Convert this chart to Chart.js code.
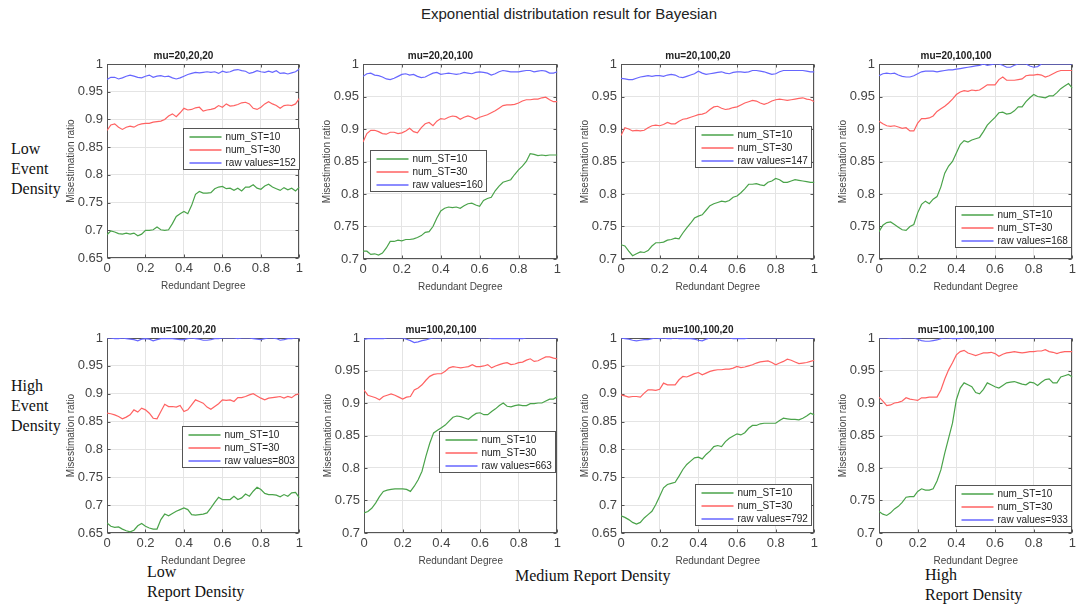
<!DOCTYPE html>
<html>
<head>
<meta charset="utf-8">
<title>Exponential distributation result for Bayesian</title>
<script src="https://cdn.jsdelivr.net/npm/chart.js@4.4.1/dist/chart.umd.min.js"></script>
<style>
  body { margin: 0; width: 1077px; height: 607px; background: #fff; overflow: hidden; position: relative;
         font-family: "Liberation Sans", Arial, sans-serif; }
  canvas.panel { position: absolute; }
  #suptitle { position: absolute; left: 569px; top: 5px; transform: translateX(-50%); font-size: 15px;
              line-height: 18px; color: #222; white-space: nowrap; }
  .note { position: absolute; font-family: "Liberation Serif", "Times New Roman", serif; font-size: 16px;
          line-height: 20px; color: #111; white-space: nowrap; }
</style>
</head>
<body>
<div id="suptitle">Exponential distributation result for Bayesian</div>
<div class="note" style="left:11px; top:139px;">Low<br>Event<br>Density</div>
<div class="note" style="left:11px; top:376px;">High<br>Event<br>Density</div>
<div class="note" style="left:147px; top:562px;">Low<br>Report Density</div>
<div class="note" style="left:515px; top:566px;">Medium Report Density</div>
<div class="note" style="left:925px; top:565px;">High<br>Report Density</div>

<script>
// redundant degree (x) shared by every panel
const degree = [0, 0.02, 0.04, 0.06, 0.08, 0.1, 0.12, 0.14, 0.16, 0.18,
  0.2, 0.22, 0.24, 0.26, 0.28, 0.3, 0.32, 0.34, 0.36, 0.38,
  0.4, 0.42, 0.44, 0.46, 0.48, 0.5, 0.52, 0.54, 0.56, 0.58,
  0.6, 0.62, 0.64, 0.66, 0.68, 0.7, 0.72, 0.74, 0.76, 0.78,
  0.8, 0.82, 0.84, 0.86, 0.88, 0.9, 0.92, 0.94, 0.96, 0.98, 1];

const panelTitles = ['mu=20,20,20', 'mu=20,20,100', 'mu=20,100,20', 'mu=20,100,100',
  'mu=100,20,20', 'mu=100,20,100', 'mu=100,100,20', 'mu=100,100,100'];
const rawCounts = [152, 160, 147, 168, 803, 663, 792, 933];
const yFloor = [0.65, 0.7, 0.7, 0.7, 0.65, 0.7, 0.65, 0.7];
const xTicks = [0, 0.2, 0.4, 0.6, 0.8, 1];

// mu=20,20,20
const st10_a = [0.692, 0.699, 0.697, 0.694, 0.693, 0.695, 0.693, 0.695, 0.690, 0.693,
  0.700, 0.700, 0.701, 0.706, 0.701, 0.700, 0.701, 0.712, 0.725, 0.730,
  0.734, 0.730, 0.745, 0.765, 0.770, 0.767, 0.767, 0.768, 0.775, 0.778,
  0.779, 0.775, 0.776, 0.772, 0.776, 0.771, 0.778, 0.778, 0.782, 0.776,
  0.774, 0.780, 0.783, 0.778, 0.775, 0.772, 0.777, 0.773, 0.776, 0.771, 0.778];
const st30_a = [0.880, 0.890, 0.892, 0.886, 0.882, 0.886, 0.888, 0.886, 0.890, 0.892,
  0.893, 0.893, 0.895, 0.896, 0.897, 0.900, 0.906, 0.910, 0.905, 0.912,
  0.920, 0.917, 0.918, 0.921, 0.922, 0.915, 0.917, 0.918, 0.920, 0.925,
  0.922, 0.928, 0.924, 0.925, 0.927, 0.930, 0.931, 0.928, 0.920, 0.918,
  0.922, 0.928, 0.932, 0.928, 0.925, 0.920, 0.925, 0.926, 0.925, 0.928, 0.938];
const raw_a = [0.972, 0.976, 0.976, 0.973, 0.975, 0.978, 0.980, 0.978, 0.976, 0.975,
  0.978, 0.980, 0.976, 0.978, 0.979, 0.977, 0.978, 0.975, 0.973, 0.975,
  0.978, 0.981, 0.983, 0.985, 0.984, 0.985, 0.986, 0.985, 0.986, 0.983,
  0.987, 0.985, 0.986, 0.989, 0.990, 0.988, 0.987, 0.983, 0.985, 0.988,
  0.986, 0.985, 0.987, 0.985, 0.988, 0.983, 0.984, 0.982, 0.984, 0.986, 0.991];

// mu=20,20,100
const st10_b = [0.712, 0.712, 0.707, 0.708, 0.706, 0.709, 0.717, 0.727, 0.727, 0.729,
  0.728, 0.730, 0.730, 0.731, 0.733, 0.736, 0.741, 0.742, 0.750, 0.763,
  0.774, 0.778, 0.780, 0.779, 0.780, 0.778, 0.782, 0.785, 0.786, 0.783,
  0.781, 0.790, 0.793, 0.795, 0.805, 0.812, 0.818, 0.820, 0.822, 0.830,
  0.837, 0.843, 0.850, 0.862, 0.861, 0.859, 0.860, 0.859, 0.860, 0.860, 0.860];
const st30_b = [0.880, 0.893, 0.898, 0.898, 0.896, 0.893, 0.892, 0.895, 0.895, 0.893,
  0.894, 0.897, 0.901, 0.896, 0.894, 0.902, 0.908, 0.910, 0.905, 0.912,
  0.916, 0.915, 0.918, 0.920, 0.919, 0.915, 0.918, 0.920, 0.918, 0.915,
  0.918, 0.920, 0.922, 0.925, 0.928, 0.932, 0.936, 0.937, 0.937, 0.938,
  0.940, 0.943, 0.945, 0.945, 0.946, 0.946, 0.948, 0.949, 0.945, 0.942, 0.942];
const raw_b = [0.981, 0.985, 0.986, 0.983, 0.982, 0.980, 0.977, 0.976, 0.978, 0.981,
  0.984, 0.985, 0.983, 0.984, 0.981, 0.979, 0.980, 0.983, 0.986, 0.987,
  0.984, 0.985, 0.986, 0.985, 0.984, 0.985, 0.987, 0.986, 0.985, 0.987,
  0.988, 0.987, 0.986, 0.983, 0.985, 0.988, 0.990, 0.989, 0.988, 0.988,
  0.988, 0.989, 0.990, 0.990, 0.988, 0.989, 0.990, 0.989, 0.986, 0.986, 0.988];

// mu=20,100,20
const st10_c = [0.722, 0.720, 0.712, 0.705, 0.708, 0.711, 0.710, 0.713, 0.720, 0.725,
  0.725, 0.726, 0.729, 0.730, 0.732, 0.731, 0.740, 0.748, 0.755, 0.763,
  0.766, 0.768, 0.775, 0.782, 0.785, 0.787, 0.789, 0.788, 0.790, 0.795,
  0.797, 0.802, 0.808, 0.815, 0.815, 0.816, 0.814, 0.813, 0.818, 0.820,
  0.824, 0.822, 0.818, 0.818, 0.820, 0.822, 0.821, 0.820, 0.819, 0.818, 0.818];
const st30_c = [0.890, 0.902, 0.900, 0.897, 0.898, 0.897, 0.898, 0.902, 0.905, 0.906,
  0.905, 0.907, 0.910, 0.908, 0.908, 0.912, 0.915, 0.916, 0.918, 0.920,
  0.922, 0.923, 0.925, 0.930, 0.934, 0.935, 0.932, 0.930, 0.931, 0.933,
  0.934, 0.937, 0.940, 0.942, 0.944, 0.943, 0.940, 0.938, 0.940, 0.943,
  0.945, 0.946, 0.945, 0.944, 0.945, 0.946, 0.947, 0.948, 0.946, 0.945, 0.942];
const raw_c = [0.978, 0.977, 0.976, 0.976, 0.978, 0.980, 0.981, 0.982, 0.981, 0.982,
  0.982, 0.981, 0.983, 0.984, 0.983, 0.980, 0.979, 0.981, 0.983, 0.985,
  0.989, 0.986, 0.984, 0.985, 0.986, 0.987, 0.988, 0.986, 0.985, 0.987,
  0.988, 0.988, 0.987, 0.988, 0.990, 0.990, 0.989, 0.988, 0.986, 0.984,
  0.985, 0.988, 0.990, 0.990, 0.990, 0.990, 0.990, 0.990, 0.989, 0.988, 0.988];

// mu=20,100,100
const st10_d = [0.742, 0.752, 0.756, 0.757, 0.753, 0.749, 0.745, 0.744, 0.750, 0.753,
  0.771, 0.784, 0.789, 0.785, 0.792, 0.796, 0.811, 0.832, 0.843, 0.850,
  0.863, 0.876, 0.882, 0.880, 0.883, 0.885, 0.887, 0.896, 0.906, 0.912,
  0.918, 0.925, 0.926, 0.923, 0.924, 0.928, 0.934, 0.934, 0.942, 0.948,
  0.953, 0.950, 0.949, 0.948, 0.951, 0.951, 0.956, 0.962, 0.966, 0.970, 0.963];
const st30_d = [0.912, 0.908, 0.905, 0.904, 0.905, 0.903, 0.901, 0.902, 0.897, 0.897,
  0.909, 0.916, 0.916, 0.917, 0.920, 0.927, 0.931, 0.935, 0.940, 0.946,
  0.953, 0.957, 0.959, 0.958, 0.960, 0.959, 0.960, 0.964, 0.968, 0.968,
  0.968, 0.976, 0.980, 0.975, 0.975, 0.975, 0.976, 0.977, 0.982, 0.983,
  0.983, 0.984, 0.983, 0.980, 0.982, 0.985, 0.988, 0.990, 0.990, 0.990, 0.990];
const raw_d = [0.982, 0.985, 0.986, 0.985, 0.986, 0.983, 0.981, 0.980, 0.980, 0.982,
  0.985, 0.988, 0.989, 0.989, 0.989, 0.988, 0.989, 0.990, 0.991, 0.991,
  0.992, 0.993, 0.994, 0.995, 0.996, 0.997, 0.998, 1.000, 0.998, 0.999,
  1.000, 1.000, 0.998, 0.995, 0.995, 0.998, 1.000, 1.000, 1.000, 0.997,
  0.995, 0.996, 1.000, 1.000, 1.000, 1.000, 1.000, 1.000, 1.000, 1.000, 1.000];

// mu=100,20,20
const st10_e = [0.668, 0.662, 0.660, 0.661, 0.657, 0.654, 0.652, 0.655, 0.663, 0.667,
  0.662, 0.659, 0.657, 0.657, 0.674, 0.684, 0.681, 0.685, 0.689, 0.692,
  0.695, 0.692, 0.683, 0.682, 0.683, 0.684, 0.686, 0.695, 0.705, 0.714,
  0.710, 0.710, 0.710, 0.716, 0.710, 0.713, 0.720, 0.716, 0.725, 0.732,
  0.728, 0.721, 0.719, 0.719, 0.718, 0.715, 0.719, 0.716, 0.722, 0.723, 0.713];
const st30_e = [0.865, 0.864, 0.862, 0.859, 0.855, 0.858, 0.862, 0.871, 0.867, 0.874,
  0.871, 0.865, 0.856, 0.855, 0.868, 0.881, 0.877, 0.877, 0.876, 0.879,
  0.868, 0.871, 0.880, 0.889, 0.886, 0.883, 0.876, 0.872, 0.877, 0.882,
  0.889, 0.888, 0.889, 0.886, 0.893, 0.893, 0.895, 0.898, 0.900, 0.896,
  0.892, 0.889, 0.892, 0.893, 0.894, 0.895, 0.892, 0.895, 0.893, 0.898, 0.900];
const raw_e = [1.000, 1.000, 0.999, 0.999, 1.000, 0.999, 0.998, 0.997, 0.995, 0.998,
  0.999, 0.998, 0.995, 0.997, 0.999, 0.999, 0.999, 0.999, 0.998, 0.997,
  0.997, 0.999, 1.000, 0.999, 0.998, 0.996, 0.996, 0.997, 0.999, 0.999,
  1.000, 1.000, 1.000, 1.000, 0.999, 1.000, 1.000, 1.000, 0.999, 0.998,
  0.997, 0.999, 1.000, 1.000, 0.999, 0.996, 0.997, 0.999, 0.999, 1.000, 1.000];

// mu=100,20,100
const st10_f = [0.731, 0.733, 0.738, 0.746, 0.756, 0.764, 0.766, 0.767, 0.768, 0.768,
  0.768, 0.767, 0.764, 0.772, 0.782, 0.795, 0.818, 0.838, 0.854, 0.858,
  0.862, 0.866, 0.872, 0.878, 0.880, 0.879, 0.877, 0.875, 0.880, 0.884,
  0.885, 0.882, 0.882, 0.887, 0.891, 0.896, 0.900, 0.895, 0.894, 0.896,
  0.897, 0.896, 0.896, 0.899, 0.899, 0.900, 0.900, 0.903, 0.906, 0.906, 0.910];
const st30_f = [0.920, 0.912, 0.910, 0.908, 0.905, 0.910, 0.912, 0.914, 0.912, 0.909,
  0.906, 0.909, 0.910, 0.920, 0.923, 0.928, 0.935, 0.941, 0.944, 0.945,
  0.945, 0.949, 0.954, 0.956, 0.955, 0.954, 0.955, 0.956, 0.959, 0.956,
  0.956, 0.957, 0.959, 0.954, 0.957, 0.959, 0.961, 0.962, 0.959, 0.960,
  0.962, 0.963, 0.966, 0.968, 0.964, 0.965, 0.968, 0.971, 0.971, 0.969, 0.968];
const raw_f = [0.998, 0.999, 0.999, 0.999, 0.999, 0.999, 1.000, 1.000, 1.000, 1.000,
  1.000, 0.998, 0.996, 0.993, 0.994, 0.996, 0.997, 0.999, 1.000, 1.000,
  1.000, 1.000, 1.000, 1.000, 1.000, 1.000, 1.000, 1.000, 1.000, 1.000,
  1.000, 1.000, 1.000, 0.999, 0.999, 0.999, 0.999, 0.999, 0.999, 0.999,
  0.999, 0.999, 1.000, 1.000, 1.000, 1.000, 1.000, 1.000, 1.000, 1.000, 1.000];

// mu=100,100,20
const st10_g = [0.681, 0.678, 0.674, 0.669, 0.666, 0.669, 0.677, 0.683, 0.689, 0.701,
  0.716, 0.731, 0.737, 0.739, 0.741, 0.752, 0.764, 0.773, 0.779, 0.785,
  0.786, 0.783, 0.791, 0.797, 0.805, 0.807, 0.805, 0.814, 0.820, 0.824,
  0.828, 0.826, 0.830, 0.838, 0.843, 0.843, 0.846, 0.847, 0.847, 0.847,
  0.847, 0.852, 0.856, 0.855, 0.854, 0.854, 0.853, 0.856, 0.860, 0.865, 0.862];
const st30_g = [0.898, 0.896, 0.894, 0.895, 0.895, 0.894, 0.901, 0.907, 0.907, 0.906,
  0.908, 0.919, 0.916, 0.916, 0.916, 0.925, 0.931, 0.930, 0.933, 0.936,
  0.938, 0.934, 0.937, 0.940, 0.942, 0.943, 0.943, 0.944, 0.944, 0.946,
  0.949, 0.947, 0.948, 0.950, 0.952, 0.955, 0.957, 0.958, 0.959, 0.956,
  0.952, 0.955, 0.958, 0.962, 0.960, 0.957, 0.954, 0.955, 0.956, 0.958, 0.960];
const raw_g = [1.000, 0.999, 0.998, 0.996, 0.995, 0.996, 0.997, 0.997, 0.999, 1.000,
  0.999, 1.000, 0.999, 0.999, 1.000, 0.999, 0.999, 0.999, 0.999, 0.998,
  0.996, 0.995, 0.998, 1.000, 1.000, 1.000, 1.000, 1.000, 1.000, 0.999,
  0.999, 0.999, 0.999, 1.000, 1.000, 1.000, 1.000, 1.000, 1.000, 1.000,
  1.000, 1.000, 1.000, 1.000, 1.000, 1.000, 1.000, 1.000, 1.000, 1.000, 1.000];

// mu=100,100,100
const st10_h = [0.733, 0.729, 0.727, 0.731, 0.737, 0.741, 0.747, 0.755, 0.756, 0.756,
  0.764, 0.768, 0.766, 0.766, 0.768, 0.780, 0.797, 0.823, 0.846, 0.869,
  0.905, 0.923, 0.931, 0.928, 0.925, 0.916, 0.914, 0.921, 0.931, 0.928,
  0.925, 0.923, 0.927, 0.931, 0.932, 0.933, 0.931, 0.929, 0.928, 0.932,
  0.931, 0.927, 0.932, 0.936, 0.937, 0.931, 0.931, 0.940, 0.942, 0.944, 0.940];
const st30_h = [0.909, 0.903, 0.896, 0.897, 0.900, 0.901, 0.903, 0.908, 0.906, 0.905,
  0.904, 0.908, 0.908, 0.909, 0.909, 0.909, 0.920, 0.937, 0.951, 0.962,
  0.974, 0.979, 0.981, 0.977, 0.975, 0.973, 0.975, 0.977, 0.977, 0.978,
  0.976, 0.972, 0.975, 0.977, 0.978, 0.979, 0.978, 0.977, 0.978, 0.979,
  0.979, 0.980, 0.980, 0.982, 0.979, 0.978, 0.976, 0.978, 0.979, 0.979, 0.979];
const raw_h = [1.000, 1.000, 1.000, 0.999, 0.999, 0.999, 1.000, 1.000, 1.000, 1.000,
  0.998, 0.996, 0.995, 0.995, 0.996, 0.997, 0.999, 1.000, 1.000, 0.999,
  0.999, 0.999, 1.000, 1.000, 1.000, 1.000, 1.000, 1.000, 1.000, 1.000,
  1.000, 1.000, 1.000, 1.000, 1.000, 1.000, 1.000, 1.000, 1.000, 1.000,
  1.000, 1.000, 1.000, 1.000, 1.000, 1.000, 1.000, 1.000, 1.000, 1.000, 1.000];

const st10Series = [st10_a, st10_b, st10_c, st10_d, st10_e, st10_f, st10_g, st10_h];
const st30Series = [st30_a, st30_b, st30_c, st30_d, st30_e, st30_f, st30_g, st30_h];
const rawSeries = [raw_a, raw_b, raw_c, raw_d, raw_e, raw_f, raw_g, raw_h];

// plot rectangles on the page and legend offsets inside each plot
const panelBoxes = [
  { l: 107, t: 64, r: 302, b: 258, lx: 76, ly: 64 },
  { l: 363, t: 64, r: 560, b: 259, lx: 7, ly: 86 },
  { l: 621, t: 64, r: 817, b: 259, lx: 74, ly: 62 },
  { l: 879, t: 64, r: 1075, b: 259, lx: 76, ly: 142 },
  { l: 107, t: 338, r: 302, b: 533, lx: 75, ly: 88 },
  { l: 364, t: 338, r: 560, b: 533, lx: 75, ly: 93 },
  { l: 621, t: 338, r: 817, b: 533, lx: 74, ly: 146 },
  { l: 879, t: 338, r: 1075, b: 533, lx: 76, ly: 147 }
];

const GREEN = '#4aa34a', RED = '#ff6262', BLUE = '#6666ff';
const AXIS_W = 42, TITLE_H = 16, XAXIS_H = 34, RIGHT_PAD = 4;

Chart.defaults.font.family = '"Liberation Sans", Arial, sans-serif';
Chart.defaults.color = '#444';

const tickText = v => String(Number(v.toFixed(2)));

// box around the axes plus small inward ticks, like a MATLAB axes
const framePlugin = {
  id: 'frame',
  beforeDatasetsDraw(chart) {
    const { ctx, chartArea: a, scales } = chart;
    const L = Math.round(a.left) + 0.5, T = Math.round(a.top) + 0.5;
    const R = Math.round(a.right) - 0.5, B = Math.round(a.bottom) - 0.5;
    ctx.save();
    ctx.strokeStyle = '#555';
    ctx.lineWidth = 1;
    ctx.strokeRect(L, T, R - L, B - T);
    ctx.beginPath();
    scales.x.ticks.forEach(t => {
      const px = Math.round(scales.x.getPixelForValue(t.value)) + 0.5;
      ctx.moveTo(px, B); ctx.lineTo(px, B - 3);
      ctx.moveTo(px, T); ctx.lineTo(px, T + 3);
    });
    scales.y.ticks.forEach(t => {
      const py = Math.round(scales.y.getPixelForValue(t.value)) + 0.5;
      ctx.moveTo(L, py); ctx.lineTo(L + 3, py);
      ctx.moveTo(R, py); ctx.lineTo(R - 3, py);
    });
    ctx.stroke();
    ctx.restore();
  }
};

// boxed legend drawn inside the plot area
const insetLegend = {
  id: 'insetLegend',
  afterDatasetsDraw(chart, args, opts) {
    const { ctx, chartArea: a } = chart;
    const x = Math.round(a.left + opts.x) + 0.5;
    const y = Math.round(a.top + opts.y) + 0.5;
    const w = 116, h = 41;
    ctx.save();
    ctx.fillStyle = '#fff';
    ctx.fillRect(x, y, w, h);
    ctx.strokeStyle = '#555';
    ctx.lineWidth = 1;
    ctx.strokeRect(x, y, w, h);
    ctx.font = '10px "Liberation Sans", Arial, sans-serif';
    ctx.textBaseline = 'middle';
    chart.data.datasets.forEach((ds, k) => {
      const ry = Math.round(y + 8 + k * 13);
      ctx.strokeStyle = ds.borderColor;
      ctx.lineWidth = 1.6;
      ctx.beginPath();
      ctx.moveTo(x + 6, ry);
      ctx.lineTo(x + 38, ry);
      ctx.stroke();
      ctx.fillStyle = '#222';
      ctx.fillText(ds.label, x + 42, ry);
    });
    ctx.restore();
  }
};

function toPoints(values) {
  return values.map((v, k) => ({ x: degree[k], y: v }));
}

function makePanel(i) {
  const box = panelBoxes[i];
  const canvas = document.createElement('canvas');
  canvas.className = 'panel';
  canvas.width = box.r - box.l + AXIS_W + RIGHT_PAD;
  canvas.height = box.b - box.t + TITLE_H + XAXIS_H;
  canvas.style.left = (box.l - AXIS_W) + 'px';
  canvas.style.top = (box.t - TITLE_H) + 'px';
  document.body.appendChild(canvas);

  const line = (label, values, color) => ({
    label, data: toPoints(values), borderColor: color, borderWidth: 1.2,
    pointRadius: 0, tension: 0, fill: false
  });

  new Chart(canvas, {
    type: 'line',
    data: {
      datasets: [
        line('num_ST=10', st10Series[i], GREEN),
        line('num_ST=30', st30Series[i], RED),
        line(`raw values=${rawCounts[i]}`, rawSeries[i], BLUE)
      ]
    },
    options: {
      responsive: false,
      animation: false,
      layout: { padding: { top: 0, left: 0, bottom: 0, right: RIGHT_PAD } },
      scales: {
        x: {
          type: 'linear', min: 0, max: 1,
          afterBuildTicks: s => { s.ticks = xTicks.map(v => ({ value: v })); },
          afterFit: s => { s.height = XAXIS_H; },
          grid: { color: '#e4e4e4', drawTicks: false },
          border: { display: false },
          ticks: { callback: tickText, font: { size: 13 }, color: '#444', padding: 3, maxRotation: 0 },
          title: { display: true, text: 'Redundant Degree', font: { size: 10 }, color: '#444', padding: 0 }
        },
        y: {
          min: yFloor[i], max: 1,
          ticks: { stepSize: 0.05, callback: tickText, font: { size: 13 }, color: '#444', padding: 4 },
          afterFit: s => { s.width = AXIS_W; },
          grid: { color: '#e4e4e4', drawTicks: false },
          border: { display: false },
          title: { display: true, text: 'Misestimation ratio', font: { size: 10 }, color: '#444', padding: 0 }
        }
      },
      plugins: {
        legend: { display: false },
        tooltip: { enabled: false },
        title: {
          display: true, text: panelTitles[i], color: '#222',
          font: { size: 10, weight: 'bold' }, padding: { top: 2, bottom: 2 }
        },
        insetLegend: { x: box.lx, y: box.ly }
      }
    },
    plugins: [framePlugin, insetLegend]
  });
}

panelBoxes.forEach((_, i) => makePanel(i));
</script>
</body>
</html>
